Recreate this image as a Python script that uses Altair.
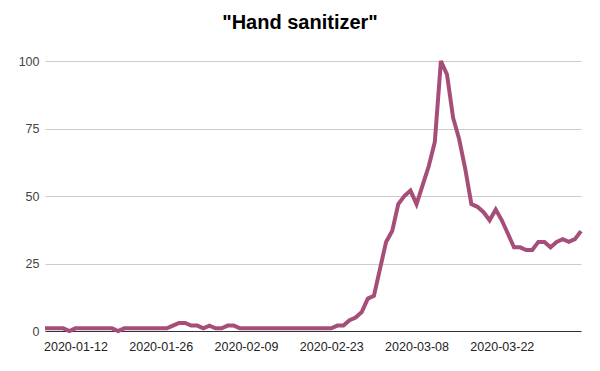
import altair as alt
import pandas as pd

start_date = "2020-01-07"
values = [
    1, 1, 1, 1, 0, 1, 1, 1, 1, 1, 1, 1, 0, 1, 1, 1, 1, 1, 1, 1, 1,
    2, 3, 3, 2, 2, 1, 2, 1, 1, 2, 2,
    1, 1, 1, 1, 1, 1, 1, 1, 1, 1, 1, 1, 1, 1, 1, 1,
    2, 2, 4, 5, 7, 12, 13, 23, 33, 37, 47, 50, 52, 47, 54, 61, 70,
    100, 95, 79, 71, 60, 47, 46, 44, 41, 45, 41, 36, 31, 31, 30, 30,
    33, 33, 31, 33, 34, 33, 34, 37,
]
dates = pd.date_range(start_date, periods=len(values), freq="D").strftime("%Y-%m-%d").tolist()
tick_dates = ["2020-01-12", "2020-01-26", "2020-02-09", "2020-02-23", "2020-03-08", "2020-03-22"]
y_ticks = [0, 25, 50, 75, 100]
title_text = '"Hand sanitizer"'

df = pd.DataFrame({"date": dates, "value": values})


def dt(s):
    y, m, d = (int(p) for p in s.split("-"))
    return alt.DateTime(year=y, month=m, date=d, utc=True)


font = "Liberation Sans"

chart = (
    alt.Chart(df, view=alt.ViewBackground(stroke="transparent", strokeWidth=0, strokeOpacity=0))
    .mark_line(color="#a64d79", strokeWidth=4, clip=False)
    .encode(
        x=alt.X(
            "date:T",
            scale=alt.Scale(type="utc", domain=[dt(dates[0]), dt(dates[-1])], nice=False),
            axis=alt.Axis(
                title=None,
                values=[dt(s) for s in tick_dates],
                labelExpr="utcFormat(datum.value, '%Y-%m-%d')",
                grid=False,
                ticks=False,
                domain=True,
                domainColor="#333333",
                domainWidth=1,
                labelFont=font,
                labelFontSize=12.5,
                labelColor="#222222",
                labelPadding=9,
                labelAngle=0,
            ),
        ),
        y=alt.Y(
            "value:Q",
            scale=alt.Scale(domain=[0, 100], nice=False),
            axis=alt.Axis(
                title=None,
                values=y_ticks,
                grid=True,
                gridColor="#cccccc",
                domain=False,
                ticks=False,
                labelFont=font,
                labelFontSize=12.5,
                labelColor="#444444",
                labelPadding=6,
            ),
        ),
    )
    .properties(
        width=536,
        height=270,
        autosize=alt.AutoSizeParams(type="none"),
        padding={"left": 45, "top": 61, "right": 19, "bottom": 40},
        title=alt.TitleParams(
            text=title_text,
            font=font,
            fontSize=20,
            fontWeight="bold",
            color="#000000",
            anchor="middle",
            dx=-13,
            offset=20,
        ),
    )
    .configure(background="white")
)

chart.save("out.html", embed_options={"renderer": "svg", "actions": False})
